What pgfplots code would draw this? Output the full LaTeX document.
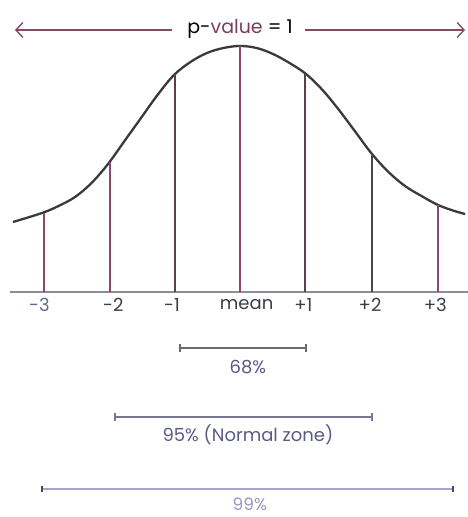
\documentclass[border=0pt]{standalone}
\usepackage{fontspec}
\setmainfont{Poppins}
\usepackage{pgfplots}
\pgfplotsset{compat=1.18}
\usetikzlibrary{arrows.meta}

\definecolor{curve}{RGB}{58,58,60}
\definecolor{rose}{RGB}{140,72,108}
\definecolor{roseDark}{RGB}{95,60,78}
\definecolor{slate}{RGB}{72,72,76}
\definecolor{base}{RGB}{140,140,156}
\definecolor{tickink}{RGB}{60,60,72}
\definecolor{tickblue}{RGB}{100,100,150}
\definecolor{arrowrose}{RGB}{128,76,104}
\definecolor{valrose}{RGB}{122,62,92}
\definecolor{barA}{RGB}{104,104,118}
\definecolor{labA}{RGB}{88,88,136}
\definecolor{barB}{RGB}{118,118,142}
\definecolor{labB}{RGB}{90,90,134}
\definecolor{barC}{RGB}{164,164,206}
\definecolor{labC}{RGB}{150,150,196}

\begin{document}
\begin{tikzpicture}
\begin{axis}[
  scale only axis,
  width=468pt, height=517pt,
  xmin=-3.6364, xmax=3.4545,
  ymin=-225, ymax=292,
  hide axis,
  clip=false,
]
% hand-drawn bell curve (x in standard deviations, y in height units)
\addplot[smooth, tension=0.6, line width=2.3pt, color=curve] coordinates {
  (-3.44,70) (-3.0,79) (-2.75,86) (-2.5,95) (-2.25,109) (-2.0,128)
  (-1.75,151) (-1.5,174) (-1.25,197) (-1.0,217) (-0.75,230) (-0.5,239)
  (-0.25,244) (0,246) (0.25,244) (0.5,238) (0.75,229) (1.0,218)
  (1.25,202) (1.5,182) (1.75,160) (2.0,138) (2.25,120) (2.5,106)
  (2.75,96) (3.0,87) (3.25,81) (3.41,78)
};

% baseline
\addplot[line width=1.3pt, color=base] coordinates {(-3.49,0) (3.45,0)};

% standard-deviation markers
\addplot[ycomb, line width=1.8pt, color=rose]     coordinates {(-2.97,79)};
\addplot[ycomb, line width=1.8pt, color=rose]     coordinates {(-1.97,130)};
\addplot[ycomb, line width=1.8pt, color=roseDark] coordinates {(-0.98,218)};
\addplot[ycomb, line width=1.8pt, color=rose]     coordinates {(0,246)};
\addplot[ycomb, line width=1.8pt, color=roseDark] coordinates {(0.99,218)};
\addplot[ycomb, line width=1.8pt, color=slate]    coordinates {(2.0,138)};
\addplot[ycomb, line width=1.8pt, color=rose]     coordinates {(3.0,87)};

% tick labels
\begin{scope}[font=\fontsize{18}{19}\selectfont]
\node[text=tickblue] at (axis cs:-3.04,-13) {-3};
\node[text=tickink]  at (axis cs:-1.92,-13) {-2};
\node[text=tickink]  at (axis cs:-1.03,-13) {-1};
\node[text=tickink]  at (axis cs:0.10,-13) {mean};
\node[text=tickink]  at (axis cs:0.96,-13) {+1};
\node[text=tickink]  at (axis cs:1.97,-13) {+2};
\node[text=tickink]  at (axis cs:2.96,-13) {+3};
\end{scope}

% p-value arrow
\draw[{Straight Barb[length=7pt,width=15pt]}-, line width=1.4pt, color=arrowrose]
  (axis cs:-3.41,262) -- (axis cs:-1.03,262);
\draw[-{Straight Barb[length=7pt,width=15pt]}, line width=1.4pt, color=arrowrose]
  (axis cs:0.985,262) -- (axis cs:3.41,262);
\node[font=\fontsize{19}{20}\selectfont] at (axis cs:0,263)
  {p-\textcolor{valrose}{value} = 1};

% coverage ranges
\addplot[line width=1.5pt, color=barA, mark=|, mark size=4pt,
  mark options={line width=1.5pt}] coordinates {(-0.909,-56) (1.0,-56)};
\node[text=labA, font=\fontsize{18}{19}\selectfont] at (axis cs:0.12,-75) {68\%};

\addplot[line width=1.5pt, color=barB, mark=|, mark size=4pt,
  mark options={line width=1.5pt}] coordinates {(-1.894,-125) (2.0,-125)};
\node[text=labB, font=\fontsize{18}{19}\selectfont] at (axis cs:0.12,-143) {95\% (Normal zone)};

\addplot[line width=1.6pt, color=barC, mark=|, mark size=3pt,
  mark options={line width=1.5pt, color=black!70}] coordinates {(-3.0,-197) (3.23,-197)};
\node[text=labC, font=\fontsize{17}{18}\selectfont, inner sep=1pt] at (axis cs:0.15,-212) {99\%};
\end{axis}
\pgfresetboundingbox
\path (current axis.south west) rectangle (current axis.north east);
\end{tikzpicture}
\end{document}
